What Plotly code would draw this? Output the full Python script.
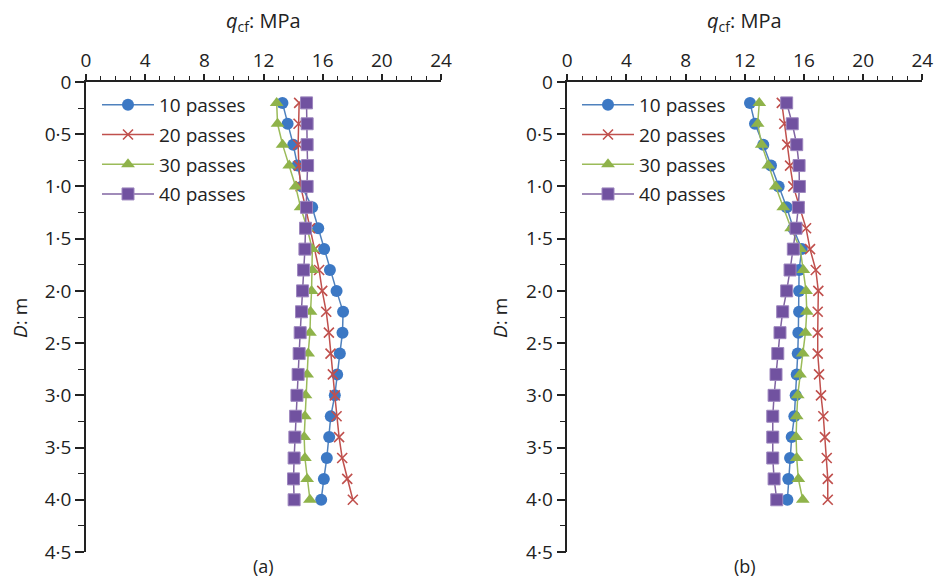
import plotly.graph_objects as go

depth = [0.2, 0.4, 0.6, 0.8, 1.0, 1.2, 1.4, 1.6, 1.8, 2.0,
         2.2, 2.4, 2.6, 2.8, 3.0, 3.2, 3.4, 3.6, 3.8, 4.0]

# Panel (a)
a_10 = [13.28, 13.63, 14.01, 14.30, 14.60, 15.29, 15.70, 16.10, 16.49, 16.94,
        17.38, 17.34, 17.16, 16.98, 16.82, 16.55, 16.44, 16.28, 16.08, 15.90]
a_20 = [14.41, 14.37, 14.34, 14.39, 14.51, 14.84, 15.14, 15.47, 15.76, 15.97,
        16.24, 16.42, 16.53, 16.69, 16.82, 16.94, 17.11, 17.32, 17.66, 18.04]
a_30 = [12.89, 12.95, 13.29, 13.74, 14.17, 14.51, 14.95, 15.30, 15.30, 15.25,
        15.18, 15.14, 15.02, 14.95, 14.84, 14.80, 14.75, 14.80, 14.95, 15.14]
a_40 = [14.91, 14.95, 14.95, 14.98, 14.95, 14.91, 14.84, 14.80, 14.71, 14.64,
        14.57, 14.48, 14.41, 14.34, 14.26, 14.17, 14.12, 14.07, 14.03, 14.07]

# Panel (b)
b_10 = [12.35, 12.69, 13.25, 13.77, 14.29, 14.83, 15.28, 15.85, 15.67, 15.67,
        15.67, 15.62, 15.58, 15.51, 15.44, 15.35, 15.17, 15.06, 14.94, 14.88]
b_20 = [14.50, 14.67, 14.87, 15.06, 15.28, 15.70, 16.14, 16.41, 16.80, 16.97,
        16.93, 16.93, 16.93, 17.02, 17.15, 17.31, 17.42, 17.54, 17.61, 17.61]
b_30 = [12.98, 12.87, 13.14, 13.59, 14.09, 14.60, 15.13, 15.75, 15.96, 16.14,
        16.19, 16.10, 15.92, 15.73, 15.58, 15.51, 15.47, 15.51, 15.62, 15.92]
b_40 = [14.83, 15.21, 15.51, 15.67, 15.69, 15.62, 15.46, 15.28, 15.06, 14.83,
        14.56, 14.38, 14.23, 14.11, 13.98, 13.89, 13.89, 13.89, 13.98, 14.16]

series_names = ["10 passes", "20 passes", "30 passes", "40 passes"]
x_tickvals = [0, 4, 8, 12, 16, 20, 24]
y_tickvals = [0, 0.5, 1.0, 1.5, 2.0, 2.5, 3.0, 3.5, 4.0, 4.5]
y_ticktext = ["0", "0·5", "1·0", "1·5", "2·0", "2·5", "3·0", "3·5", "4·0", "4·5"]

W, H = 935, 581
FONT = "Open Sans"
TXT = "#222222"
FS = 19

styles = [
    dict(line=dict(color="#4F81BD", width=1.5),
         marker=dict(symbol="circle", size=12, color="#3C78C4",
                     line=dict(width=0))),
    dict(line=dict(color="#C0504D", width=1.5),
         marker=dict(symbol="x-thin-open", size=10,
                     line=dict(color="#C0504D", width=1.6))),
    dict(line=dict(color="#9BBB59", width=1.5),
         marker=dict(symbol="triangle-up", size=12, color="#8FB34A",
                     line=dict(width=0))),
    dict(line=dict(color="#8064A2", width=1.5),
         marker=dict(symbol="square", size=12, color="#7152A0",
                     line=dict(color="#9D86BE", width=1))),
]

fig = go.Figure()
panels = [([a_10, a_20, a_30, a_40], "x", "y", "legend", "a"),
          ([b_10, b_20, b_30, b_40], "x2", "y2", "legend2", "b")]
for data, xa, ya, lg, tag in panels:
    for name, vals, st in zip(series_names, data, styles):
        fig.add_trace(go.Scatter(
            x=vals, y=depth, name=name, mode="lines+markers",
            xaxis=xa, yaxis=ya, legend=lg, legendgroup=tag + name, **st))

def xaxis(dom, anchor):
    return dict(domain=dom, anchor=anchor, range=[0, 24], side="top",
                automargin=False,
                tickvals=x_tickvals, ticks="outside", ticklen=6, tickwidth=1.5,
                tickcolor=TXT, showline=True, linecolor=TXT, linewidth=1.5,
                showgrid=False, zeroline=False,
                tickfont=dict(family=FONT, size=FS, color=TXT),
                minor=dict(dtick=1, ticks="outside", ticklen=4, tickwidth=1.2,
                           tickcolor=TXT, showgrid=False))

def yaxis(dom, anchor):
    return dict(domain=dom, anchor=anchor, range=[4.5, 0], automargin=False,
                tickvals=y_tickvals, ticktext=y_ticktext, ticks="outside",
                ticklen=9, tickwidth=1.5, tickcolor=TXT, showline=True,
                linecolor=TXT, linewidth=1.5, showgrid=False, zeroline=False,
                tickfont=dict(family=FONT, size=FS, color=TXT),
                minor=dict(tickvals=[0.25, 0.75, 1.25, 1.75, 2.25, 2.75,
                                     3.25, 3.75, 4.25],
                           ticks="outside", ticklen=6, tickwidth=1.2,
                           tickcolor=TXT, showgrid=False))

ydom = [1 - 552 / H, 1 - 82 / H]
fig.update_layout(
    width=W, height=H, margin=dict(l=0, r=0, t=0, b=0, autoexpand=False),
    paper_bgcolor="white", plot_bgcolor="white",
    font=dict(family=FONT, size=FS, color=TXT),
    xaxis=xaxis([86 / W, 441 / W], "y"),
    yaxis=yaxis(ydom, "x"),
    xaxis2=xaxis([567.3 / W, 922.3 / W], "y2"),
    yaxis2=yaxis(ydom, "x2"),
    legend=dict(x=97 / W, y=1 - 86 / H, xanchor="left", yanchor="top",
                bgcolor="rgba(0,0,0,0)", itemwidth=52, tracegroupgap=2,
                font=dict(family=FONT, size=FS, color=TXT)),
    legend2=dict(x=577 / W, y=1 - 86 / H, xanchor="left", yanchor="top",
                 bgcolor="rgba(0,0,0,0)", itemwidth=52, tracegroupgap=2,
                 font=dict(family=FONT, size=FS, color=TXT)),
)

ann = []
for cx in [(86 + 441) / 2, (567.3 + 922.3) / 2]:
    ann.append(dict(x=cx / W, y=1 - 22 / H, xref="paper", yref="paper",
                    xanchor="center", yanchor="middle",
                    text="<i>q</i><sub>cf</sub>: MPa", showarrow=False,
                    font=dict(family=FONT, size=20, color=TXT)))
for cx in [20, 500]:
    ann.append(dict(x=cx / W, y=1 - 318 / H, xref="paper", yref="paper",
                    xanchor="center", yanchor="middle",
                    text="<i>D</i>: m", showarrow=False, textangle=-90,
                    font=dict(family=FONT, size=FS, color=TXT)))
for cx, lab in [((86 + 441) / 2, "(a)"), ((567.3 + 922.3) / 2, "(b)")]:
    ann.append(dict(x=cx / W, y=1 - 566 / H, xref="paper", yref="paper",
                    xanchor="center", yanchor="middle",
                    text=lab, showarrow=False,
                    font=dict(family=FONT, size=18, color=TXT)))
fig.update_layout(annotations=ann)

fig.write_html("out.html")
